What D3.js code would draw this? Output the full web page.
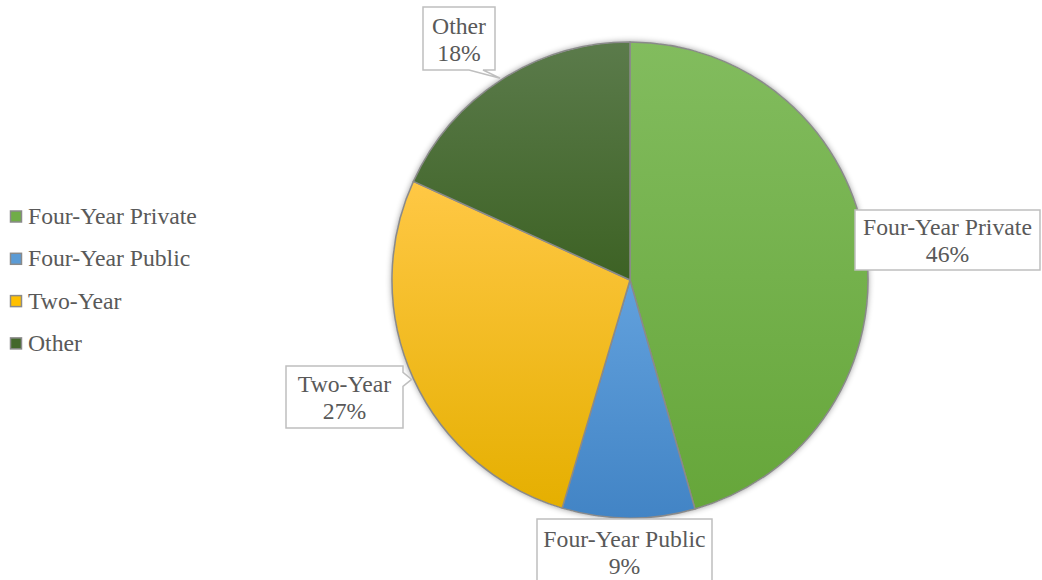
<!DOCTYPE html>
<html>
<head>
<meta charset="utf-8">
<script src="https://cdn.jsdelivr.net/npm/d3@7"></script>
<style>
  body { margin: 0; background: #fff; }
  svg { display: block; }
</style>
</head>
<body>
<svg id="chart" width="1042" height="580"></svg>
<script>
let categories = ["Four-Year Private", "Four-Year Public", "Two-Year", "Other"];
let shares = [45.6, 9.0, 27.2, 18.2];
let percentLabels = ["46%", "9%", "27%", "18%"];

// fill gradients (top, bottom) per category
let colorTop = ["#82bc5e", "#62a1dd", "#ffc845", "#5b7b4b"];
let colorBottom = ["#66a63a", "#4284c5", "#e5af00", "#3d6224"];
let legendColors = ["#70ad47", "#5b9bd5", "#ffc000", "#43682b"];

// label box layout (position of each data label callout)
let labelBoxes = [
    {x0: 855, y0: 210, x1: 1040, y1: 270},
    {x0: 537, y0: 519, x1: 712, y1: 584},
    {x0: 286, y0: 366, x1: 403, y1: 428},
    {x0: 423, y0: 7, x1: 495, y1: 70}
];

let svg = d3.select("#chart");
let cx = 630, cy = 280, radius = 238;
let font = "Liberation Serif";
let fontSize = 23.7;
let textColor = "#595959";

let defs = svg.append("defs");
let shadow = defs.append("filter").attr("id", "shadow")
    .attr("x", "-10%").attr("y", "-10%").attr("width", "120%").attr("height", "120%");
shadow.append("feDropShadow").attr("dx", 0).attr("dy", 0)
    .attr("stdDeviation", 3).attr("flood-color", "#000").attr("flood-opacity", 0.45);

categories.forEach((c, i) => {
    let grad = defs.append("linearGradient").attr("id", "grad" + i)
        .attr("x1", 0).attr("y1", 0).attr("x2", 0).attr("y2", 1);
    grad.append("stop").attr("offset", "0%").attr("stop-color", colorTop[i]);
    grad.append("stop").attr("offset", "100%").attr("stop-color", colorBottom[i]);
});

let data = categories.map((c, i) => ({name: c, value: shares[i], label: percentLabels[i], i: i}));

let pie = d3.pie().value(d => d.value).sort(null);
let arc = d3.arc().innerRadius(0).outerRadius(radius);
let arcs = pie(data);

let g = svg.append("g").attr("transform", "translate(" + cx + "," + cy + ")");

g.append("circle").attr("r", radius).attr("fill", "#fff").attr("filter", "url(#shadow)");

g.selectAll("path.slice")
    .data(arcs)
    .enter().append("path")
    .attr("class", "slice")
    .attr("d", arc)
    .attr("fill", d => "url(#grad" + d.data.i + ")")
    .attr("stroke", "#8a8a8a")
    .attr("stroke-width", 1.5)
    .attr("stroke-linejoin", "round");

// callout labels
let tipArc = d3.arc().innerRadius(radius + 2).outerRadius(radius + 2);

function calloutPath(b, tx, ty) {
    let hw = 7;
    let pts = [];
    let clamp = (v, a, z) => Math.max(a, Math.min(z, v));
    if (ty > b.y1) {
        let m = clamp(tx, b.x0 + 12, b.x1 - 12 - hw);
        pts = [[b.x0, b.y0], [b.x1, b.y0], [b.x1, b.y1], [m + hw, b.y1], [tx, ty], [m - hw, b.y1], [b.x0, b.y1]];
    } else if (ty < b.y0) {
        let m = clamp(tx, b.x0 + 12, b.x1 - 12);
        pts = [[b.x0, b.y0], [m - hw, b.y0], [tx, ty], [m + hw, b.y0], [b.x1, b.y0], [b.x1, b.y1], [b.x0, b.y1]];
    } else if (tx > b.x1) {
        let m = clamp(ty, b.y0 + 8, b.y1 - 12);
        pts = [[b.x0, b.y0], [b.x1, b.y0], [b.x1, m - hw], [tx, ty], [b.x1, m + hw], [b.x1, b.y1], [b.x0, b.y1]];
    } else {
        pts = [[b.x0, b.y0], [b.x1, b.y0], [b.x1, b.y1], [b.x0, b.y1]];
    }
    return "M" + pts.map(p => p.join(",")).join("L") + "Z";
}

arcs.forEach(d => {
    let b = labelBoxes[d.data.i];
    let t = tipArc.centroid(d);
    let tx = cx + t[0], ty = cy + t[1];
    svg.append("path")
        .attr("d", calloutPath(b, tx, ty))
        .attr("fill", "#fff")
        .attr("stroke", "#bfbfbf")
        .attr("stroke-width", 1.5);
    let mx = (b.x0 + b.x1) / 2;
    let my = (b.y0 + b.y1) / 2;
    let lbl = svg.append("text")
        .attr("font-family", font)
        .attr("font-size", fontSize)
        .attr("fill", textColor)
        .attr("text-anchor", "middle");
    lbl.append("tspan").attr("x", mx).attr("y", my - 5).text(d.data.name);
    lbl.append("tspan").attr("x", mx).attr("y", my + 22).text(d.data.label);
});

// legend
let legend = svg.append("g")
    .selectAll("g")
    .data(data)
    .enter().append("g")
    .attr("transform", (d, i) => "translate(0," + (216.5 + i * 42.3) + ")");

legend.append("rect")
    .attr("x", 10.5)
    .attr("y", -5.5)
    .attr("width", 11)
    .attr("height", 11)
    .attr("fill", d => legendColors[d.i])
    .attr("stroke", "#8a8a8a")
    .attr("stroke-width", 1.5);

legend.append("text")
    .attr("font-family", font)
    .attr("font-size", fontSize)
    .attr("fill", textColor)
    .attr("x", 28)
    .attr("y", 7.5)
    .text(d => d.name);
</script>
</body>
</html>
